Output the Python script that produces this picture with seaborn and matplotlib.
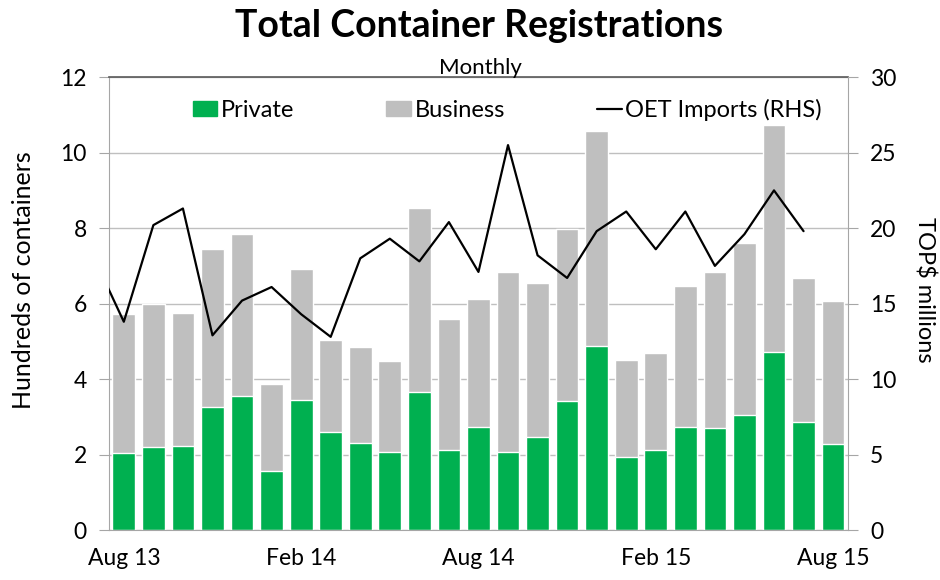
import numpy as np
import pandas as pd
import matplotlib
matplotlib.use("Agg")
import matplotlib.pyplot as plt
import seaborn as sns
from matplotlib.patches import Patch
from matplotlib.lines import Line2D

# monthly data, Aug 13 .. Aug 15 (hundreds of containers)
months = ["Aug 13", "Sep 13", "Oct 13", "Nov 13", "Dec 13", "Jan 14", "Feb 14",
          "Mar 14", "Apr 14", "May 14", "Jun 14", "Jul 14", "Aug 14", "Sep 14",
          "Oct 14", "Nov 14", "Dec 14", "Jan 15", "Feb 15", "Mar 15", "Apr 15",
          "May 15", "Jun 15", "Jul 15", "Aug 15"]
private = [2.03, 2.20, 2.22, 3.25, 3.54, 1.57, 3.45, 2.59, 2.30, 2.08, 3.67, 2.13,
           2.73, 2.06, 2.47, 3.41, 4.87, 1.95, 2.11, 2.73, 2.71, 3.05, 4.73, 2.87, 2.28]
business = [3.70, 3.79, 3.54, 4.21, 4.30, 2.30, 3.47, 2.45, 2.54, 2.39, 4.87, 3.47,
            3.39, 4.78, 4.08, 4.57, 5.70, 2.56, 2.58, 3.75, 4.13, 4.56, 5.99, 3.81, 3.78]

# OET imports (TOP$ millions), Jul 13 .. Jul 15
oet_months = ["Jul 13"] + months[:-1]
oet_imports = [18.0, 13.8, 20.2, 21.3, 12.9, 15.2, 16.1, 14.3, 12.8, 18.0, 19.3, 17.8,
               20.4, 17.1, 25.5, 18.2, 16.7, 19.8, 21.1, 18.6, 21.1, 17.5, 19.6, 22.5, 19.8]

tick_labels = ["Aug 13", "Feb 14", "Aug 14", "Feb 15", "Aug 15"]

green = "#00B050"
grey = "#BFBFBF"

df = pd.DataFrame({"month": months, "private": private, "business": business})
df["total"] = df["private"] + df["business"]
df["pos"] = np.arange(len(df))

line_df = pd.DataFrame({"month": oet_months, "oet": oet_imports})
line_df["pos"] = np.arange(len(line_df)) - 1

sns.set_style("white")
plt.rcParams["font.family"] = ["Lato", "DejaVu Sans"]
plt.rcParams["text.color"] = "black"
plt.rcParams["xtick.color"] = "black"
plt.rcParams["ytick.color"] = "black"

fig = plt.figure(figsize=(9.4, 5.8), dpi=100)
ax = fig.add_axes([0.116, 0.086, 0.786, 0.781])

sns.barplot(data=df, x="pos", y="total", color=grey, saturation=1, width=0.77,
            native_scale=True, errorbar=None, ax=ax)
sns.barplot(data=df, x="pos", y="private", color=green, saturation=1, width=0.77,
            native_scale=True, errorbar=None, ax=ax)

ax2 = ax.twinx()
sns.lineplot(data=line_df, x="pos", y="oet", color="black", linewidth=1.6, ax=ax2)

ax.set_xlim(-0.5, len(months) - 0.5)
ax.set_ylim(0, 12)
ax2.set_ylim(0, 30)
ax.set_yticks(np.arange(0, 13, 2))
ax2.set_yticks(np.arange(0, 31, 5))

label_pos = [months.index(m) for m in tick_labels]
ax.set_xticks(label_pos)
ax.set_xticklabels(tick_labels)
ax.set_xticks(np.arange(-0.5, len(months) - 1, 3), minor=True)
ax.tick_params(axis="x", which="major", length=0, pad=13, labelsize=16.5)
ax.tick_params(axis="x", which="minor", length=7, color="#A6A6A6", width=1)
ax.tick_params(axis="y", length=7, color="#A6A6A6", labelcolor="black",
               labelsize=16.5, pad=9)
ax2.tick_params(axis="y", length=7, color="#A6A6A6", labelcolor="black",
                labelsize=16.5, pad=9)

ax.set_xlabel("")
ax.set_ylabel("")
ax2.set_xlabel("")
ax2.set_ylabel("")

ax.grid(axis="y", color="#BFBFBF", linewidth=1)
ax.set_axisbelow(True)

for s in ["left", "bottom"]:
    ax.spines[s].set_color("#A6A6A6")
ax.spines["right"].set_visible(False)
ax.spines["top"].set_color("#595959")
ax.spines["top"].set_linewidth(1.2)
for s in ["left", "bottom", "top"]:
    ax2.spines[s].set_visible(False)
ax2.spines["right"].set_color("#A6A6A6")

handles = [Patch(color=green, label="Private"),
           Patch(color=grey, label="Business"),
           Line2D([0], [0], color="black", linewidth=1.6, label="OET Imports (RHS)")]
ax2.legend(handles=handles, loc="center", bbox_to_anchor=(0.539, 0.927), ncol=3,
           frameon=False, fontsize=17, handlelength=1.05, handleheight=0.6,
           handletextpad=0.15, columnspacing=3.9)

fig.text(0.51, 0.955, "Total Container Registrations", ha="center", va="center",
         fontsize=27, fontweight="bold")
fig.text(0.511, 0.882, "Monthly", ha="center", va="center", fontsize=16)
fig.text(0.025, 0.517, "Hundreds of containers", ha="center", va="center",
         rotation=90, fontsize=18)
fig.text(0.984, 0.5, "TOP$ millions", ha="center", va="center",
         rotation=270, fontsize=17)

fig.savefig("out.png", dpi=100)
